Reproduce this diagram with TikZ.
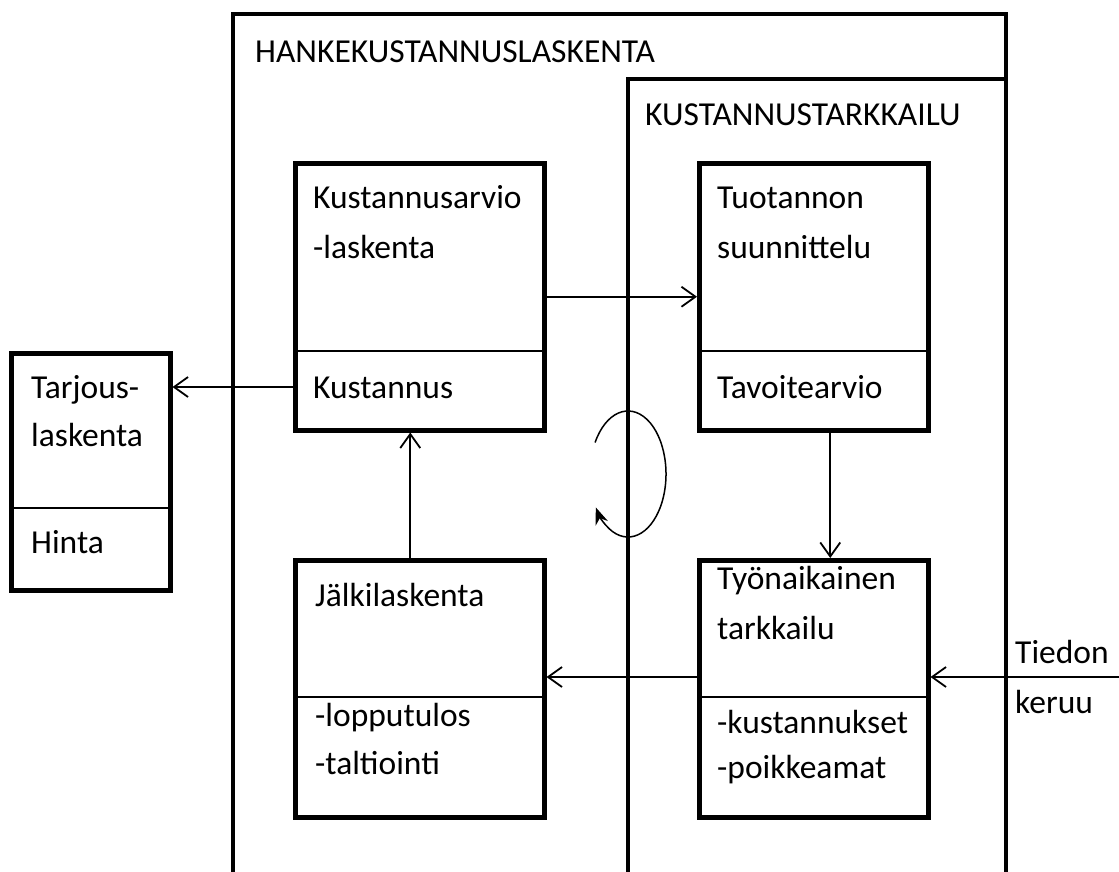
\documentclass[tikz,border=0pt]{standalone}
\usepackage{fontspec}
\setmainfont{Carlito}
\usetikzlibrary{arrows.meta}

\tikzset{
	box/.style={draw, line width=4.5pt, inner sep=0pt, anchor=north west},
	txt/.style={anchor=base west, inner sep=0pt, font=\fontsize{33.5pt}{40pt}\selectfont},
	divline/.style={line width=1.8pt},
	outerframe/.style={line width=4.5pt},
	conn/.style={line width=1.8pt, -{Straight Barb[length=14pt,width=20pt]}},
}

\begin{document}
\begin{tikzpicture}[x=1pt, y=-1pt]
		\useasboundingbox (0,0) rectangle (1119,872);
		
		% Frames
		\draw[outerframe] (233,890) -- (233,14) -- (1006,14) -- (1006,890);
		\draw[outerframe] (628,890) -- (628,79) -- (1006,79);
		\node[txt] (hanke) at (255,63) {HANKEKUSTANNUSLASKENTA};
		\node[txt] (tark) at (645,126) {KUSTANNUSTARKKAILU};
		
		% Boxes
		\node[box, minimum width=249pt, minimum height=267pt] (kalk) at (293,161) {};
		\node[box, minimum width=229pt, minimum height=267pt] (tuot) at (697,161) {};
		\node[box, minimum width=159pt, minimum height=237pt] (tarj) at (9,351) {};
		\node[box, minimum width=249pt, minimum height=257pt] (jalk) at (293,558) {};
		\node[box, minimum width=229pt, minimum height=257pt] (tyon) at (697,558) {};
		
		% Dividers
		\draw[divline] ([yshift=-190pt]kalk.north west) -- ([yshift=-190pt]kalk.north east);
		\draw[divline] ([yshift=-190pt]tuot.north west) -- ([yshift=-190pt]tuot.north east);
		\draw[divline] ([yshift=-157pt]tarj.north west) -- ([yshift=-157pt]tarj.north east);
		\draw[divline] ([yshift=-139pt]jalk.north west) -- ([yshift=-139pt]jalk.north east);
		\draw[divline] ([yshift=-139pt]tyon.north west) -- ([yshift=-139pt]tyon.north east);
		
		% Texts
		\node[txt] (kalk1) at (313,208) {Kustannusarvio};
		\node[txt] (kalk2) at (313,258) {-laskenta};
		\node[txt] (kust) at (313,398) {Kustannus};
		\node[txt] (tuot1) at (717,208) {Tuotannon};
		\node[txt] (tuot2) at (717,258) {suunnittelu};
		\node[txt] (tavo) at (717,398) {Tavoitearvio};
		\node[txt] (tarj1) at (31,398) {Tarjous-};
		\node[txt] (tarj2) at (31,446) {laskenta};
		\node[txt] (hinta) at (31,553) {Hinta};
		\node[txt] (jalk1) at (315,606) {Jälkilaskenta};
		\node[txt] (jalk2) at (315,726) {-lopputulos};
		\node[txt] (jalk3) at (315,774) {-taltiointi};
		\node[txt] (tyon1) at (717,589) {Työnaikainen};
		\node[txt] (tyon2) at (717,639) {tarkkailu};
		\node[txt] (tyon3) at (717,733) {-kustannukset};
		\node[txt] (tyon4) at (717,778) {-poikkeamat};
		\node[txt] (tied1) at (1015,663) {Tiedon};
		\node[txt] (tied2) at (1015,713) {keruu};
		
		% Arrows
		\coordinate (tied) at (1119,677);
		\draw[conn] (kalk.east) -- (tuot.west);
		\draw[conn] (kalk.west |- 0,387) -- (tarj.east |- 0,387);
		\draw[conn] ([xshift=-9.5pt]jalk.north) -- ([xshift=-9.5pt]kalk.south);
		\draw[conn] ([xshift=16.5pt]tuot.south) -- ([xshift=16.5pt]tyon.north);
		\draw[conn] (tyon.west |- tied) -- (jalk.east |- tied);
		\draw[conn] (tied) -- (tyon.east |- tied);
		
		% Loop
		\coordinate (loop) at (628,474);
		\draw[line width=1.5pt, -{Stealth[length=17pt,width=13pt]}] ([shift={(150:38pt and 63pt)}]loop) arc[start angle=150, end angle=-148, x radius=38pt, y radius=63pt];
	\end{tikzpicture}
\end{document}
